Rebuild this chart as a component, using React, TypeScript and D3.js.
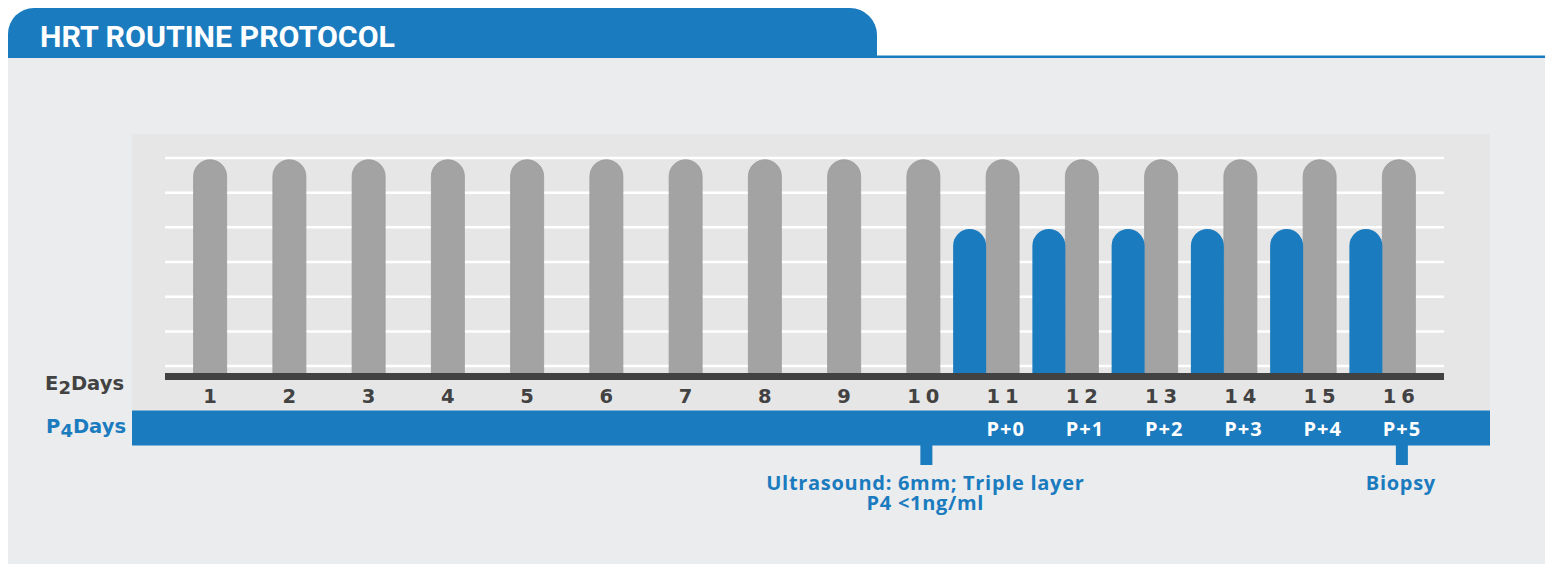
import { useEffect, useRef } from 'react';
import * as d3 from 'd3';

const TITLE = 'HRT ROUTINE PROTOCOL';

const DAYS = ['1', '2', '3', '4', '5', '6', '7', '8', '9', '10', '11', '12', '13', '14', '15', '16'];
// E2 dosing level per day (grey bars)
const E2_LEVEL = [5.95, 5.95, 5.95, 5.95, 5.95, 5.95, 5.95, 5.95, 5.95, 5.95, 5.95, 5.95, 5.95, 5.95, 5.95, 5.95];
// P4 dosing level per day (blue bars), null = none
const P4_LEVEL = [null, null, null, null, null, null, null, null, null, null, 3.95, 3.95, 3.95, 3.95, 3.95, 3.95];
const P4_LABELS = ['', '', '', '', '', '', '', '', '', '', 'P+0', 'P+1', 'P+2', 'P+3', 'P+4', 'P+5'];

const NOTES = [
  { day: '10', lines: ['Ultrasound: 6mm; Triple layer', 'P4 <1ng/ml'] },
  { day: '16', lines: ['Biopsy'] },
];

const BLUE = '#1a7bbf';
const GREY_BAR = '#a3a3a3';
const DARK = '#424242';
const NARROW = '"Liberation Sans Narrow", "Arial Narrow", Roboto, sans-serif';
const BOLD = '"Open Sans", Roboto, sans-serif';
const WIDE = '"DejaVu Sans", Verdana, sans-serif';

// rect with rounded top corners (radius = half width)
function pillTop(x: number, y: number, w: number, bottom: number) {
  const r = w / 2;
  return `M${x},${bottom}V${y + r}A${r},${r} 0 0 1 ${x + w},${y + r}V${bottom}Z`;
}

export default function App() {
  const svgRef = useRef<SVGSVGElement>(null);

  useEffect(() => {
    if (!svgRef.current) return;
    const W = 1545;
    const H = 564;
    const svg = d3.select(svgRef.current);
    svg.selectAll('*').remove();
    svg.attr('width', W).attr('height', H);

    // background panels
    svg.append('rect').attr('x', 8).attr('y', 58).attr('width', W - 8).attr('height', H - 58).attr('fill', '#ebecee');
    svg.append('path')
      .attr('d', 'M8,58V34A26,26 0 0 1 34,8H850A27,27 0 0 1 877,35V58Z')
      .attr('fill', BLUE);
    svg.append('rect').attr('x', 877).attr('y', 55.5).attr('width', W - 877).attr('height', 2.5).attr('fill', BLUE);
    svg.append('text')
      .attr('x', 40).attr('y', 47)
      .attr('font-family', NARROW)
      .attr('font-weight', 700)
      .attr('font-size', 30)
      .attr('fill', '#fff')
      .attr('textLength', 355)
      .attr('lengthAdjust', 'spacingAndGlyphs')
      .text(TITLE);

    // inner chart panel
    svg.append('rect').attr('x', 132).attr('y', 134).attr('width', 1358).attr('height', 277).attr('fill', '#e6e6e6');

    const x = d3.scaleBand<string>().domain(DAYS).range([170.5, 1438.5]).padding(0);
    const cx = (d: string) => (x(d) ?? 0) + x.bandwidth() / 2;
    const y = d3.scaleLinear().domain([-0.3, 6]).range([376.5, 158]);
    const barW = 33;
    const baseY = y(-0.3);

    // gridlines
    svg.append('g')
      .selectAll('line')
      .data(y.ticks(7).filter(t => t >= 0))
      .join('line')
      .attr('x1', 165).attr('x2', 1444)
      .attr('y1', d => y(d)).attr('y2', d => y(d))
      .attr('stroke', '#ffffff')
      .attr('stroke-width', 2.5);

    // E2 bars
    svg.append('g')
      .selectAll('path')
      .data(DAYS.map((d, i) => ({ d, v: E2_LEVEL[i] })))
      .join('path')
      .attr('d', p => pillTop(cx(p.d) - barW / 2, y(p.v), barW, baseY))
      .attr('fill', GREY_BAR)
      .attr('stroke', '#9a9a9a')
      .attr('stroke-width', 0.8);

    // P4 bars, left of the E2 bar
    svg.append('g')
      .selectAll('path')
      .data(DAYS.map((d, i) => ({ d, v: P4_LEVEL[i] })).filter(p => p.v != null))
      .join('path')
      .attr('d', p => pillTop(cx(p.d) - barW / 2 - barW, y(p.v as number), barW, baseY))
      .attr('fill', BLUE);

    // axis
    svg.append('rect').attr('x', 165).attr('y', 373).attr('width', 1279).attr('height', 7).attr('fill', DARK);

    const spacing = 5;
    svg.append('g')
      .selectAll('text')
      .data(DAYS)
      .join('text')
      .attr('x', d => cx(d) + spacing / 2)
      .attr('y', 403)
      .attr('text-anchor', 'middle')
      .attr('font-family', WIDE)
      .attr('font-weight', 700)
      .attr('font-size', 19.5)
      .attr('letter-spacing', spacing)
      .attr('fill', DARK)
      .text(d => d);

    // row labels
    const e2 = svg.append('text')
      .attr('x', 124).attr('y', 390)
      .attr('text-anchor', 'end')
      .attr('font-family', WIDE)
      .attr('font-weight', 700)
      .attr('font-size', 19.5)
      .attr('fill', DARK);
    e2.append('tspan').text('E');
    e2.append('tspan').attr('dy', 4).attr('font-size', 18).text('2');
    e2.append('tspan').attr('dy', -4).text('Days');

    // P4 band
    svg.append('rect').attr('x', 132).attr('y', 410.5).attr('width', 1358).attr('height', 35).attr('fill', BLUE);

    const p4 = svg.append('text')
      .attr('x', 126).attr('y', 433)
      .attr('text-anchor', 'end')
      .attr('font-family', WIDE)
      .attr('font-weight', 700)
      .attr('font-size', 19.5)
      .attr('fill', BLUE);
    p4.append('tspan').text('P');
    p4.append('tspan').attr('dy', 4).attr('font-size', 18).text('4');
    p4.append('tspan').attr('dy', -4).text('Days');

    svg.append('g')
      .selectAll('text')
      .data(DAYS.map((d, i) => ({ d, t: P4_LABELS[i] })).filter(p => p.t))
      .join('text')
      .attr('x', p => cx(p.d) + 3)
      .attr('y', 436)
      .attr('text-anchor', 'middle')
      .attr('font-family', BOLD)
      .attr('font-weight', 700)
      .attr('font-size', 20)
      .attr('letter-spacing', 1)
      .attr('fill', '#ffffff')
      .text(p => p.t);

    // annotations: stub under the band + multi-line note
    NOTES.forEach(n => {
      const c = cx(n.day);
      svg.append('rect').attr('x', c - 6 + 3).attr('y', 445).attr('width', 12).attr('height', 20).attr('fill', BLUE);
      const note = svg.append('text')
        .attr('y', 490)
        .attr('text-anchor', 'middle')
        .attr('font-family', BOLD)
        .attr('font-weight', 700)
        .attr('font-size', 20)
        .attr('letter-spacing', 0.7)
        .attr('fill', BLUE);
      n.lines.forEach((line, i) => {
        note.append('tspan')
          .attr('x', c + 2)
          .attr('dy', i === 0 ? 0 : 20)
          .text(line);
      });
    });
  }, []);

  return (
    <svg ref={svgRef} width={1545} height={564} style={{ position: 'absolute', left: 0, top: 0, display: 'block' }} />
  );
}
